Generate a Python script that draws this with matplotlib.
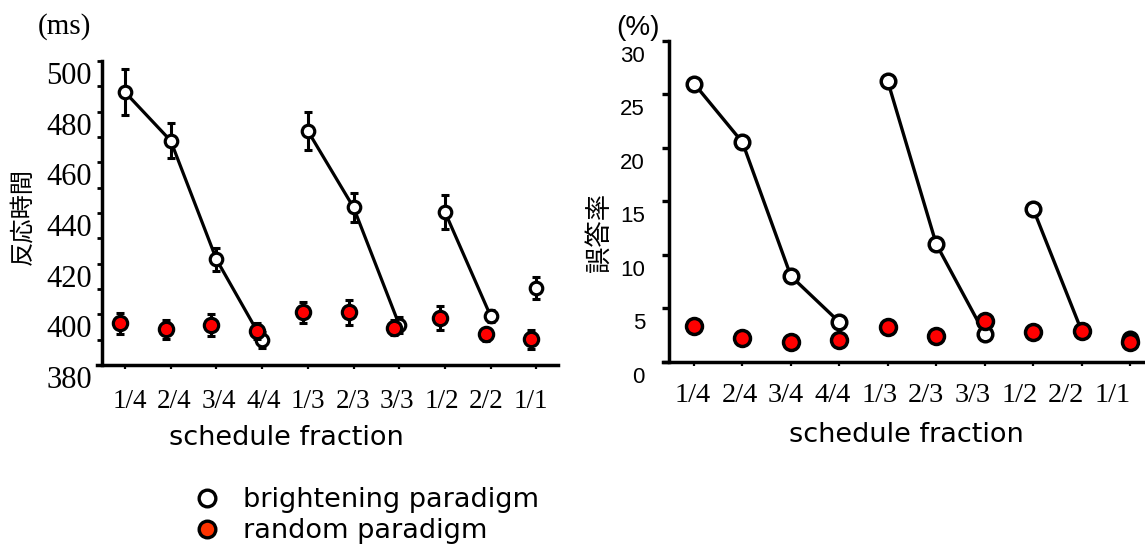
import matplotlib
matplotlib.use('Agg')
import matplotlib.pyplot as plt
from matplotlib.lines import Line2D
from matplotlib.transforms import ScaledTranslation
import numpy as np

# ---------------- data ----------------
categories = ['1/4', '2/4', '3/4', '4/4', '1/3', '2/3', '3/3', '1/2', '2/2', '1/1']
groups = [[0, 1, 2, 3], [4, 5, 6], [7, 8], [9]]

rt_bright = [487.7, 468.5, 421.7, 389.9, 472.4, 442.2, 395.8, 440.4, 399.3, 410.4]
rt_bright_err = [9.2, 6.9, 4.4, 3.0, 7.5, 5.8, 3.0, 6.6, 2.5, 4.5]
rt_random = [396.4, 394.1, 395.8, 393.4, 400.8, 400.8, 394.7, 398.4, 392.1, 390.1]
rt_random_err = [4.0, 3.8, 4.5, 3.2, 4.2, 4.9, 3.0, 4.7, 2.5, 3.6]

er_bright = [26.0, 20.5, 8.0, 3.7, 26.2, 11.0, 2.6, 14.3, 2.9, 2.1]
er_random = [3.3, 2.2, 1.8, 2.0, 3.2, 2.4, 3.8, 2.8, 2.9, 1.8]

rt_yticks = [380, 400, 420, 440, 460, 480, 500]
rt_yminor = [390, 410, 430, 450, 470, 490]
er_yticks = [0, 5, 10, 15, 20, 25, 30]

legend_labels = ['brightening paradigm', 'random paradigm']
rt_ylabel = '反応時間'
er_ylabel = '誤答率'
xlabel = 'schedule fraction'

SERIF = 'Liberation Serif'
ARIAL = 'Liberation Sans'
CJK = ['Noto Sans CJK JP', 'DejaVu Sans']

fig = plt.figure(figsize=(11.45, 5.49), dpi=100)
W, H = 1145, 549

def fx(px):
    return px / W

def fy(py):
    return 1 - py / H

ax1 = fig.add_axes([fx(101.7), fy(365), fx(558.3) - fx(101.7), fy(61) - fy(365)])
ax2 = fig.add_axes([fx(669.3), fy(361.7), fx(1145) - fx(669.3), fy(40.7) - fy(361.7)])

x = np.arange(len(categories))
red_shift = -0.11

# ---------- left: reaction time ----------
for g in groups:
    if len(g) > 1:
        ax1.plot(x[g], np.array(rt_bright)[g], color='k', lw=2.3, zorder=2)
ax1.errorbar(x, rt_bright, yerr=rt_bright_err, fmt='none', ecolor='k',
             elinewidth=2.2, capsize=3, capthick=2.2, zorder=3)
ax1.plot(x, rt_bright, ls='none', marker='o', ms=9, mfc='white', mec='k',
         mew=2.3, zorder=4)
ax1.errorbar(x + red_shift, rt_random, yerr=rt_random_err, fmt='none', ecolor='k',
             elinewidth=2.2, capsize=3, capthick=2.2, zorder=5)
ax1.plot(x + red_shift, rt_random, ls='none', marker='o', ms=10.3, mfc='#ff0000',
         mec='k', mew=2.3, zorder=6)

ax1.set_xlim(-0.51, 9.48)
ax1.set_ylim(380, 500)

# ---------- right: error rate ----------
for g in groups:
    if len(g) > 1:
        ax2.plot(x[g], np.array(er_bright)[g], color='k', lw=2.4, zorder=2)
ax2.plot(x, er_bright, ls='none', marker='o', ms=10.5, mfc='white', mec='k',
         mew=2.5, zorder=4)
ax2.plot(x, er_random, ls='none', marker='o', ms=11.5, mfc='#ff0000', mec='k',
         mew=2.5, zorder=6)
ax2.set_xlim(-0.51, 9.31)
ax2.set_ylim(0, 30)

for ax in (ax1, ax2):
    for s in ('top', 'right'):
        ax.spines[s].set_visible(False)
    for s in ('left', 'bottom'):
        ax.spines[s].set_linewidth(2.5)
ax1.spines['bottom'].set_bounds(-0.62, 9.48)
ax2.spines['bottom'].set_bounds(-0.65, 9.31)

for ln in ax1.lines + ax2.lines:
    ln.set_clip_on(False)

# x ticks: marks at the categories (minor), text row laid out separately (major)
lab1 = 0.1 + x * 0.976
lab2 = -0.025 + x * 0.964

ax1.set_xticks(x, minor=True)
ax1.set_xticks(lab1, categories, fontfamily=SERIF, fontsize=19.5)
ax1.tick_params(axis='x', which='minor', length=3, width=1.6, color='k')
ax1.tick_params(axis='x', which='major', length=0, pad=17)
ax1.set_yticks(rt_yticks, [str(v) for v in rt_yticks], fontfamily=SERIF, fontsize=22)
ax1.set_yticks(rt_yminor, minor=True)
ax1.tick_params(axis='y', which='both', length=3.6, width=2, pad=3.5)
for t in ax1.get_yticklabels():
    t.set_transform(t.get_transform() + ScaledTranslation(0, -0.12, fig.dpi_scale_trans))

ax2.set_xticks(x, minor=True)
ax2.set_xticks(lab2, categories, fontfamily=SERIF, fontsize=20.5)
ax2.tick_params(axis='x', which='minor', length=3, width=1.6, color='k')
ax2.tick_params(axis='x', which='major', length=0, pad=15.5)
ax2.set_yticks(er_yticks, [str(v) for v in er_yticks], fontfamily=ARIAL, fontsize=16)
ax2.tick_params(axis='y', length=5, width=2.4, pad=12.5)
for t in ax2.get_yticklabels():
    t.set_transform(t.get_transform() + ScaledTranslation(0, -0.13, fig.dpi_scale_trans))

# labels
fig.text(fx(22), fy(217), rt_ylabel, rotation=90, ha='center', va='center',
         fontsize=17.5, family=CJK)
fig.text(fx(599), fy(232), er_ylabel, rotation=90, ha='center', va='center',
         fontsize=19, family=CJK)
fig.text(fx(286), fy(438), xlabel, ha='center', va='center', fontsize=19.5)
fig.text(fx(906), fy(435), xlabel, ha='center', va='center', fontsize=19.5)
fig.text(fx(64.5), fy(27), '(ms)', ha='center', va='center', fontsize=21,
         fontfamily=SERIF)
fig.text(fx(637.7), fy(28), '(%)', ha='center', va='center', fontsize=20,
         fontfamily=ARIAL)

# legend
handles = [
    Line2D([], [], ls='none', marker='o', ms=12, mfc='white', mec='k', mew=2.4),
    Line2D([], [], ls='none', marker='o', ms=12, mfc='#ff3300', mec='k', mew=2.4),
]
fig.legend(handles=handles, labels=legend_labels, loc='upper left',
           bbox_to_anchor=(fx(193.5), fy(487)), frameon=False, fontsize=19.5,
           handlelength=1, handletextpad=0.83, labelspacing=0.2, borderpad=0,
           borderaxespad=0, numpoints=1)

fig.savefig('out.png', dpi=100)
